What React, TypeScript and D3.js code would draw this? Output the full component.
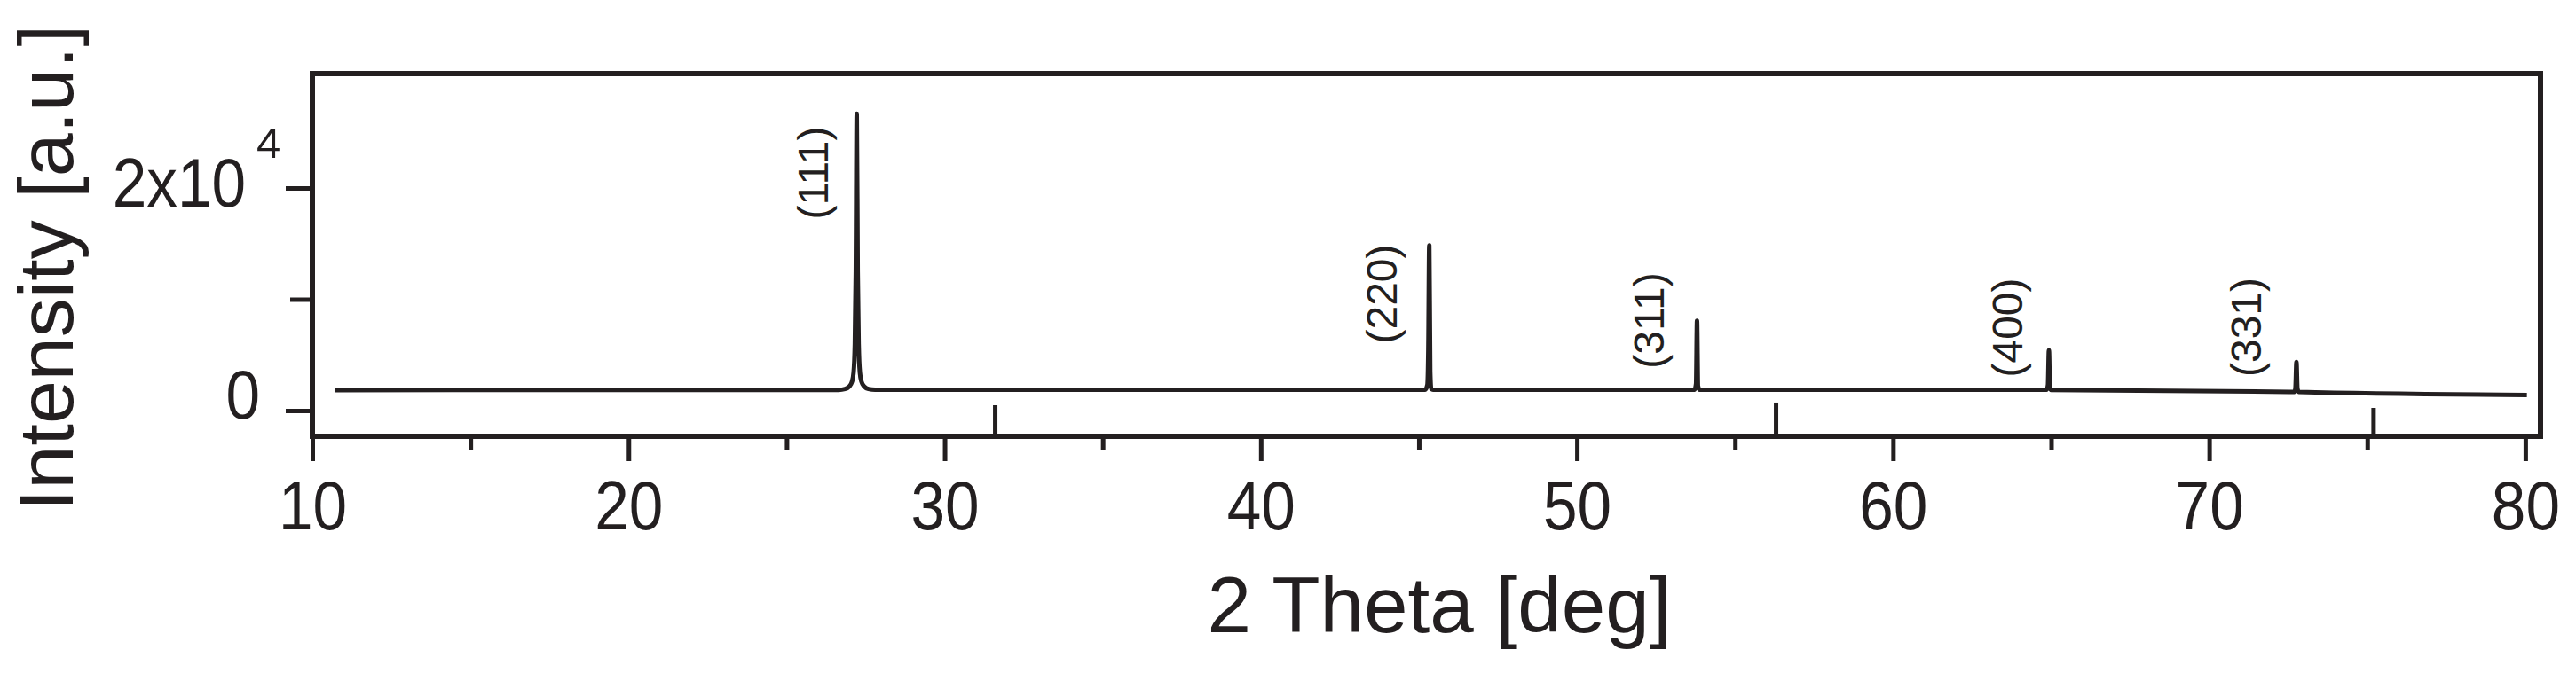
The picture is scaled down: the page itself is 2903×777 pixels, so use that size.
import { useEffect, useRef } from "react";
import * as d3 from "d3";

const twoTheta = [
  10.73, 20, 26.65, 26.85, 26.98, 27.07, 27.12, 27.16, 27.19, 27.22, 27.25, 27.28, 27.32, 27.37, 27.46, 27.59, 27.8,
  35, 45.2, 45.27, 45.3, 45.33, 45.36, 45.39, 45.45,
  53.72, 53.77, 53.8, 53.83, 53.88,
  63, 64.86, 64.9, 64.93, 64.96, 65.0,
  72.7, 72.73, 72.76, 72.79, 72.83, 80.05,
];
const intensity = [
  1840, 1850, 1860, 1940, 2150, 2600, 3400, 6000, 12500, 26670, 12500, 6000, 3400, 2600, 2150, 1940, 1870,
  1870, 1875, 2300, 5500, 14850, 3500, 1950, 1870,
  1870, 2400, 8070, 2200, 1870,
  1870, 1870, 2300, 5420, 2100, 1850,
  1680, 2050, 4360, 2000, 1670, 1400,
];

// reference line positions (short bars from the bottom axis)
const refTheta = [31.6, 56.3, 75.2];
const refTop = [480, 720, 240];

// peak labels (centre of label, in data units)
const peakLabels = ["(111)", "(220)", "(311)", "(400)", "(331)"];
const labelTheta = [25.97, 43.95, 52.41, 63.73, 71.28];
const labelInt = [21350, 10480, 8090, 7450, 7490];

const xMajor = [10, 20, 30, 40, 50, 60, 70, 80];
const xMinor = [15, 25, 35, 45, 55, 65, 75];
const yMajor = [0, 20000];
const yMinor = [10000];

const W = 2903;
const H = 777;
const INK = "#231f20";

export default function App() {
  const svgRef = useRef<SVGSVGElement | null>(null);

  useEffect(() => {
    document.body.style.margin = "0";
    const svg = d3.select(svgRef.current);
    svg.selectAll("*").remove();

    const x = d3.scaleLinear().domain([10, 80.48]).range([352, 2863]);
    const y = d3.scaleLinear().domain([-2311, 30279]).range([492, 83]);

    const font = "'Liberation Sans', Arial, Helvetica, sans-serif";
    const g = svg.append("g").attr("font-family", font).attr("fill", INK);

    // ---- x axis ticks
    const xAx = g.append("g").attr("transform", `translate(0,${y.range()[0]})`);
    xAx.call(
      d3.axisBottom(x).tickValues(xMajor).tickSize(28).tickSizeOuter(0).tickPadding(22).tickFormat(d3.format("d"))
    );
    const xAxMinor = g.append("g").attr("transform", `translate(0,${y.range()[0]})`);
    xAxMinor.call(d3.axisBottom(x).tickValues(xMinor).tickSize(15).tickSizeOuter(0).tickFormat(() => ""));
    [xAx, xAxMinor].forEach((a) => {
      a.select(".domain").remove();
      a.selectAll("line").attr("stroke", INK).attr("stroke-width", 5);
    });
    xAx.selectAll("text").attr("font-size", 77).attr("fill", INK).attr("font-family", font);

    // ---- y axis ticks (labels placed by hand below)
    const yAx = g.append("g").attr("transform", `translate(${x.range()[0]},0)`);
    yAx.call(d3.axisLeft(y).tickValues(yMajor).tickSize(30).tickSizeOuter(0).tickFormat(() => ""));
    const yAxMinor = g.append("g").attr("transform", `translate(${x.range()[0]},0)`);
    yAxMinor.call(d3.axisLeft(y).tickValues(yMinor).tickSize(25).tickSizeOuter(0).tickFormat(() => ""));
    [yAx, yAxMinor].forEach((a) => {
      a.select(".domain").remove();
      a.selectAll("line").attr("stroke", INK).attr("stroke-width", 5);
    });

    g.append("text").attr("x", 293).attr("y", y(0) + 9).attr("text-anchor", "end").attr("font-size", 77).text("0");
    g.append("text").attr("x", 277).attr("y", y(20000) + 21).attr("text-anchor", "end").attr("font-size", 77).text("2x10");

    // tick digits are a bit condensed in the original
    g.selectAll<SVGTextElement, unknown>("text").each(function () {
      const w = this.getComputedTextLength();
      d3.select(this).attr("textLength", w * 0.9).attr("lengthAdjust", "spacingAndGlyphs");
    });

    // superscript of the 2x10^4 label
    g.append("text").attr("x", 289).attr("y", y(20000) - 34).attr("font-size", 49).text("4");

    // ---- reference bars
    g.selectAll(".ref")
      .data(refTheta)
      .join("line")
      .attr("x1", (d) => x(d))
      .attr("x2", (d) => x(d))
      .attr("y1", y.range()[0])
      .attr("y2", (_d, i) => y(refTop[i]))
      .attr("stroke", INK)
      .attr("stroke-width", 5);

    // ---- pattern
    const pts = twoTheta.map((t, i) => [t, intensity[i]] as [number, number]);
    const line = d3
      .line<[number, number]>()
      .x((d) => x(d[0]))
      .y((d) => y(d[1]))
      .curve(d3.curveMonotoneX);
    g.append("path")
      .attr("d", line(pts))
      .attr("fill", "none")
      .attr("stroke", INK)
      .attr("stroke-width", 5)
      .attr("stroke-linejoin", "round");

    // ---- peak labels (rotated)
    const fsLab = 48;
    peakLabels.forEach((lab, i) => {
      const cx = x(labelTheta[i]) + 0.26 * fsLab;
      const cy = y(labelInt[i]);
      g.append("text")
        .attr("transform", `translate(${cx},${cy}) rotate(-90)`)
        .attr("text-anchor", "middle")
        .attr("font-size", fsLab)
        .text(lab);
    });

    // ---- frame
    g.append("rect")
      .attr("x", x.range()[0])
      .attr("y", y.range()[1])
      .attr("width", x.range()[1] - x.range()[0])
      .attr("height", y.range()[0] - y.range()[1])
      .attr("fill", "none")
      .attr("stroke", INK)
      .attr("stroke-width", 6);

    // ---- axis titles
    g.append("text")
      .attr("x", 1622)
      .attr("y", 713)
      .attr("text-anchor", "middle")
      .attr("font-size", 89)
      .text("2 Theta [deg]");
    g.append("text")
      .attr("transform", "translate(82,302) rotate(-90)")
      .attr("text-anchor", "middle")
      .attr("font-size", 88)
      .text("Intensity [a.u.]");
  }, []);

  return <svg ref={svgRef} width={W} height={H} style={{ display: "block", background: "#fff" }} />;
}
